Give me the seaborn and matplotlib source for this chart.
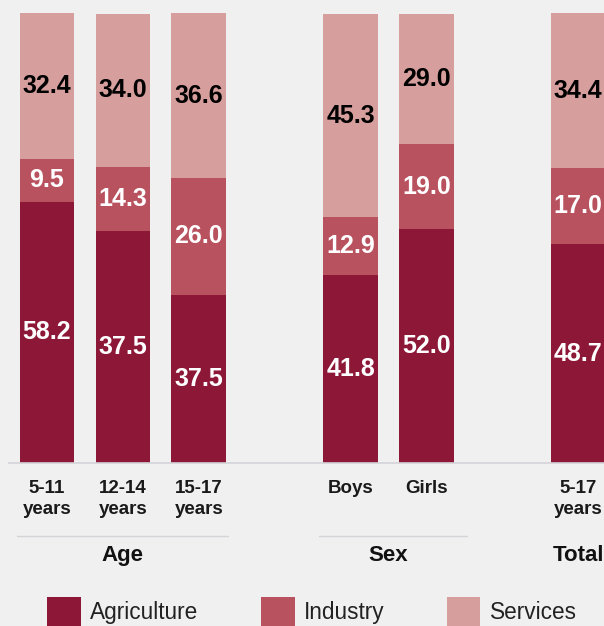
import matplotlib
matplotlib.use("Agg")
import matplotlib.pyplot as plt
import matplotlib.transforms as mtransforms
from matplotlib.patches import Patch
import pandas as pd
import seaborn as sns

# data (bar 2 is drawn at 51.7 but labelled 37.5 in the original)
groups = ["5-11\nyears", "12-14\nyears", "15-17\nyears", "Boys", "Girls", "5-17\nyears"]
agriculture = [58.2, 51.7, 37.5, 41.8, 52.0, 48.7]
agriculture_labels = ["58.2", "37.5", "37.5", "41.8", "52.0", "48.7"]
industry = [9.5, 14.3, 26.0, 12.9, 19.0, 17.0]
services = [32.4, 34.0, 36.6, 45.3, 29.0, 34.4]
sectors = ["Agriculture", "Industry", "Services"]
colors = ["#8c1736", "#b9525f", "#d69e9c"]

# empty slots leave the gaps between Age / Sex / Total
order = groups[:3] + [" "] + groups[3:5] + ["  "] + groups[5:]

df = pd.DataFrame({"group": groups, "Agriculture": agriculture,
                   "Industry": industry, "Services": services})
df["ag_top"] = df["Agriculture"]
df["ind_top"] = df["Agriculture"] + df["Industry"]
df["serv_top"] = df["ind_top"] + df["Services"]

sns.set_style("white")
plt.rcParams["font.family"] = ["Liberation Sans", "DejaVu Sans"]

bg = "#f0f0f0"
fig = plt.figure(figsize=(6.04, 6.26), dpi=100, facecolor=bg)
ax = fig.add_axes([9 / 604, 163 / 626, 1 - 9 / 604, 463 / 626])
ax.set_facecolor(bg)

# stacked bars by layering cumulative totals
for col, c in zip(["serv_top", "ind_top", "ag_top"], colors[::-1]):
    sns.barplot(data=df, x="group", y=col, order=order, color=c, width=0.72,
                saturation=1, errorbar=None, linewidth=0, ax=ax)

ax.set_xlim(-0.5, 7.34)
ax.set_ylim(0, 103.1)

# value labels
vfs = 18
for i, g in enumerate(groups):
    x = order.index(g)
    a, ind, s = agriculture[i], industry[i], services[i]
    ax.text(x, a / 2, agriculture_labels[i], ha="center", va="center",
            color="white", fontsize=vfs, fontweight="bold")
    ax.text(x, a + ind / 2, f"{ind:.1f}", ha="center", va="center",
            color="white", fontsize=vfs, fontweight="bold")
    ax.text(x, a + ind + s / 2, f"{s:.1f}", ha="center", va="center",
            color="black", fontsize=vfs, fontweight="bold")

ax.set_xlabel("")
ax.set_ylabel("")
ax.set_yticks([])
ax.tick_params(axis="x", length=0, pad=12, labelsize=13.5, labelcolor="#1a1a1a")
for lab in ax.get_xticklabels():
    lab.set_fontweight("bold")
    lab.set_linespacing(1.3)
for side in ["top", "right", "left"]:
    ax.spines[side].set_visible(False)
ax.spines["bottom"].set_color("#d4d4d8")
ax.spines["bottom"].set_linewidth(1.2)

# group captions and separator lines
trans = mtransforms.blended_transform_factory(ax.transData, ax.transAxes)
for x0, x1 in [(-0.40, 2.39), (3.59, 5.53)]:
    ax.plot([x0, x1], [-0.158, -0.158], color="#d4d4d8", lw=1.0,
            transform=trans, clip_on=False)
for x, name in [(1, "Age"), (4.5, "Sex"), (7, "Total")]:
    ax.text(x, -0.2, name, transform=trans, ha="center", va="center",
            fontsize=16, fontweight="bold", color="#111111")

handles = [Patch(facecolor=c, edgecolor="none", label=l) for c, l in zip(colors, sectors)]
fig.legend(handles=handles, loc="upper left", bbox_to_anchor=(0.078, 0.0463),
           ncol=3, frameon=False, fontsize=16.3, handlelength=1.5, handleheight=1.6,
           columnspacing=2.75, handletextpad=0.4, borderpad=0, borderaxespad=0,
           labelcolor="#222222")

fig.savefig("out.png", dpi=100, facecolor=bg)
